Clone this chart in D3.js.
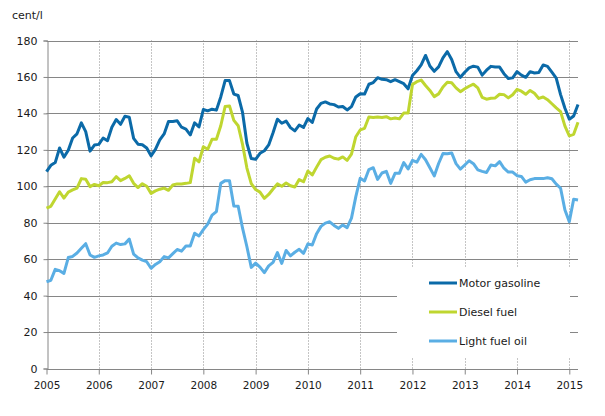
<!DOCTYPE html>
<html>
<head>
<meta charset="utf-8">
<script src="https://cdn.jsdelivr.net/npm/d3@7"></script>
<style>
  body { margin: 0; background: #fff; }
  svg { display: block; font-family: "DejaVu Sans", Verdana, sans-serif; }
</style>
</head>
<body>
<svg id="chart" width="605" height="416"></svg>
<script>
// monthly prices, cent/l, Jan 2005 - Mar 2015
const years = ['2005', '2006', '2007', '2008', '2009', '2010', '2011', '2012', '2013', '2014', '2015']
const yTicks = [0, 20, 40, 60, 80, 100, 120, 140, 160, 180]

const gasoline = [
  108, 111.5, 113, 121, 116, 119.8, 126.5, 128.8, 134.8, 130, 119.3, 122.6,
  123, 126.5, 125, 132.4, 136.6, 134, 138.4, 137.9, 126.3, 123.1, 122.8, 121,
  116.7, 120.2, 125.4, 128.7, 135.5, 135.6, 135.9, 132.4, 131.4, 128.2, 134.8, 132.6,
  142.1, 141.4, 142.3, 141.8, 149, 158, 158, 150.6, 149.8, 140.5, 123.6, 115.2,
  114.8, 118.1, 119.5, 122.7, 129.4, 136.8, 134.6, 135.8, 132.2, 130.4, 133.6, 132.3,
  137.2, 135, 142.4, 145.5, 146.3, 145.2, 144.8, 143.5, 143.8, 141.9, 143.7, 149,
  150.8, 150.6, 156, 156.9, 159.6, 158.7, 158.5, 157.4, 158.5, 157.4, 156.3, 153.5,
  160.8, 163.4, 166.6, 171.8, 166, 163.1, 165.5, 170.5, 173.9, 169.6, 162.9, 159.8,
  162.6, 165, 165.9, 165.4, 161, 163.7, 165.8, 165.4, 165.4, 161.8, 159.1, 159.5,
  162.9, 161, 159.8, 162.9, 162.2, 162.4, 166.6, 165.8, 162.6, 159.4, 150.3, 142.8,
  136.8, 138.6, 144.9
]

const diesel = [
  88, 89, 93, 97, 93.5, 96.8, 98, 99, 104.2, 103.8, 99.8, 101,
  100.3, 102.1, 102, 102.5, 105.3, 103.1, 104.3, 105.8, 101.6, 99.3, 101.4, 100,
  96.1, 97.5, 98.4, 99, 97.8, 100.7, 101.3, 101.3, 101.6, 102, 115.4, 113.4,
  121.7, 120.3, 125.8, 125.8, 133.2, 143.8, 144.1, 136.2, 133.2, 123, 110, 101.5,
  98.2, 96.8, 93.4, 95.5, 98.5, 101.3, 100, 101.8, 100.3, 99.6, 103.7, 102.5,
  108.3, 106.2, 110.5, 114.6, 115.9, 116.6, 115.4, 114.9, 116.1, 114.2, 117.6, 127.2,
  130.9, 131.8, 138, 137.7, 138, 137.8, 138.2, 137, 137.5, 137, 140.2, 140.2,
  155.8, 157.4, 158.3, 155.3, 152.6, 149.2, 150.7, 154.5, 157.1, 156.8, 154, 151.9,
  153.5, 154.9, 156, 154, 148.8, 147.8, 148.3, 148.5, 150.5, 150.3, 148.5, 150.2,
  153.2, 152.2, 150.5, 152.6, 151, 148.2, 149, 147.5, 145.3, 143, 141, 133,
  127.7, 128.5, 135.2
]

const lightFuelOil = [
  47.6, 48.4, 54.4, 53.7, 52.2, 60.9, 61.5, 63.4, 66, 68.5, 62.3, 61,
  61.8, 62.3, 63.4, 67.1, 68.8, 68, 68.4, 71, 62.8, 60.7, 59.5, 58.6,
  55, 57.1, 58.6, 61.4, 60.7, 63, 65.3, 64.4, 67.2, 67.2, 74.2, 72.7,
  76.2, 79.2, 84.2, 86.1, 101.6, 103.1, 103.1, 89.2, 89, 77, 66.8, 55.5,
  57.8, 55.6, 52.6, 56.3, 58.2, 63.6, 57.7, 64.8, 61.8, 63.8, 65.4, 63.2,
  68.4, 67.8, 74, 78, 79.8, 80.5, 78.5, 76.9, 78.8, 77.3, 82.5, 94.3,
  104.4, 102.9, 109.2, 110.2, 103.8, 107.3, 108.2, 101.6, 107.1, 107.2, 113, 109.5,
  114.2, 113.2, 117.5, 114.6, 110.2, 105.7, 112.5, 118, 117.8, 118.3, 112.4, 109.4,
  111.7, 114, 112.4, 109, 108.2, 107.6, 111.7, 111.2, 113.5, 109.9, 107.8, 107.8,
  105.8, 105.4, 102.3, 103.6, 104.2, 104.2, 104.2, 104.7, 104.1, 101.2, 98.9, 87,
  80.6, 92.9, 92.5
]

const seriesNames = ['Motor gasoline', 'Diesel fuel', 'Light fuel oil']
const colors = ['#0b6aa8', '#bfd630', '#5aaee4']

const svg = d3.select('#chart')

const x = d3.scaleLinear().domain([0, 120]).range([46.5, 569.3])
const y = d3.scaleLinear().domain([0, 180]).range([368.5, 40.5])
const lastX = x(gasoline.length - 1)

// horizontal grid
svg.append('g')
  .selectAll('line')
  .data(yTicks.filter(d => d > 0))
  .join('line')
  .attr('x1', x(0)).attr('x2', lastX)
  .attr('y1', d => Math.round(y(d)) + 0.5).attr('y2', d => Math.round(y(d)) + 0.5)
  .attr('stroke', '#868686')

// vertical dotted grid
svg.append('g')
  .selectAll('line')
  .data(years.slice(1))
  .join('line')
  .attr('x1', (d, i) => Math.round(x((i + 1) * 12)) + 0.5)
  .attr('x2', (d, i) => Math.round(x((i + 1) * 12)) + 0.5)
  .attr('y1', y(180)).attr('y2', y(0))
  .attr('stroke', '#8a8a8a')
  .attr('stroke-dasharray', '1,2')

// legend background hides grid
svg.append('rect')
  .attr('x', 397).attr('y', 267)
  .attr('width', 173).attr('height', 90)
  .attr('fill', '#fff')

// axes
const yAxis = svg.append('g')
  .attr('transform', 'translate(' + (Math.round(x(0)) + 0.5) + ',0)')
  .call(d3.axisLeft(y).tickValues(yTicks).tickSize(4).tickPadding(6))
const xAxis = svg.append('g')
  .attr('transform', 'translate(0,' + (Math.round(y(0)) + 0.5) + ')')
  .call(d3.axisBottom(x).tickValues(years.map((d, i) => i * 12))
    .tickFormat((d, i) => years[i]).tickSize(5).tickPadding(7).tickSizeOuter(0))

yAxis.select('.domain').attr('stroke', '#868686')
xAxis.select('.domain').attr('stroke', '#868686').attr('d', 'M' + x(0) + ',0H' + lastX)
svg.selectAll('.tick line').attr('stroke', '#868686')
svg.selectAll('.tick text').attr('fill', '#1a1a1a').style('font-family', '"DejaVu Sans", Verdana, sans-serif')
yAxis.selectAll('text').style('font-size', '11px')
xAxis.selectAll('text').style('font-size', '10.5px')

svg.append('text')
  .attr('x', 12).attr('y', 19)
  .attr('fill', '#1a1a1a')
  .style('font-size', '11px')
  .text('cent/l')

// lines
const line = d3.line()
  .x((d, i) => x(i))
  .y(d => y(d))

const allSeries = [gasoline, diesel, lightFuelOil]
allSeries.forEach((s, k) => {
  svg.append('path')
    .datum(s)
    .attr('d', line)
    .attr('fill', 'none')
    .attr('stroke', colors[k])
    .attr('stroke-width', 3)
    .attr('stroke-linejoin', 'round')
})

// legend
const legend = svg.append('g')
seriesNames.forEach((name, k) => {
  const ly = 283 + k * 29
  legend.append('line')
    .attr('x1', 429).attr('x2', 457)
    .attr('y1', ly).attr('y2', ly)
    .attr('stroke', colors[k])
    .attr('stroke-width', 3)
  legend.append('text')
    .attr('x', 459).attr('y', ly + 4)
    .attr('fill', '#1a1a1a')
    .style('font-size', '11px')
    .text(name)
})
</script>
</body>
</html>
